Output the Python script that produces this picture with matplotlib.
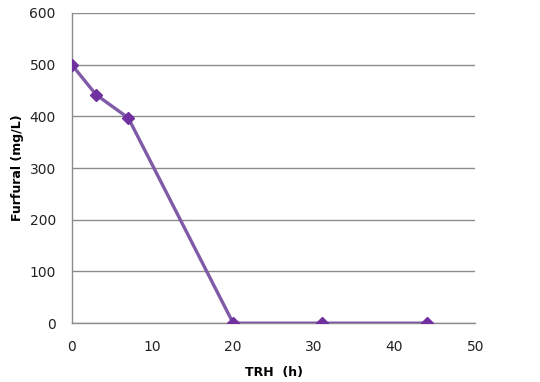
import matplotlib
matplotlib.use("Agg")
import matplotlib.pyplot as plt

# furfural concentration over time
trh_h = [0, 3, 7, 20, 31, 44]
furfural = [500, 442, 397, 0, 0, 0]
x_ticks = [0, 10, 20, 30, 40, 50]
y_ticks = [0, 100, 200, 300, 400, 500, 600]

LINE_C, MARK_C, GRID_C = "#7f5aa6", "#7030a0", "#8c8c8c"

fig = plt.figure(figsize=(5.4, 3.82), dpi=100)
ax = fig.add_axes([0.133, 0.154, 0.747, 0.812])

ax.plot(trh_h, furfural, color=LINE_C, lw=2.4, zorder=3)
ax.plot(trh_h, furfural, "D", ms=6.5, color=MARK_C, zorder=4)

ax.set_xlim(0, 50)
ax.set_ylim(0, 600)
ax.set_xticks(x_ticks)
ax.set_yticks(y_ticks)
ax.yaxis.grid(True, color=GRID_C, lw=1)
ax.set_axisbelow(True)
for s in ("top", "right"):
    ax.spines[s].set_visible(False)
for s in ("left", "bottom"):
    ax.spines[s].set_color(GRID_C)
    ax.spines[s].set_linewidth(1)
ax.tick_params(length=0, labelsize=10, colors="#222222", pad=12)
ax.tick_params(axis="y", pad=11.5)

ax.set_xlabel("TRH  (h)", fontsize=9, fontweight="bold", labelpad=9)
ax.set_ylabel("Furfural (mg/L)", fontsize=9, fontweight="bold", labelpad=4)

fig.savefig("out.png", dpi=100)
